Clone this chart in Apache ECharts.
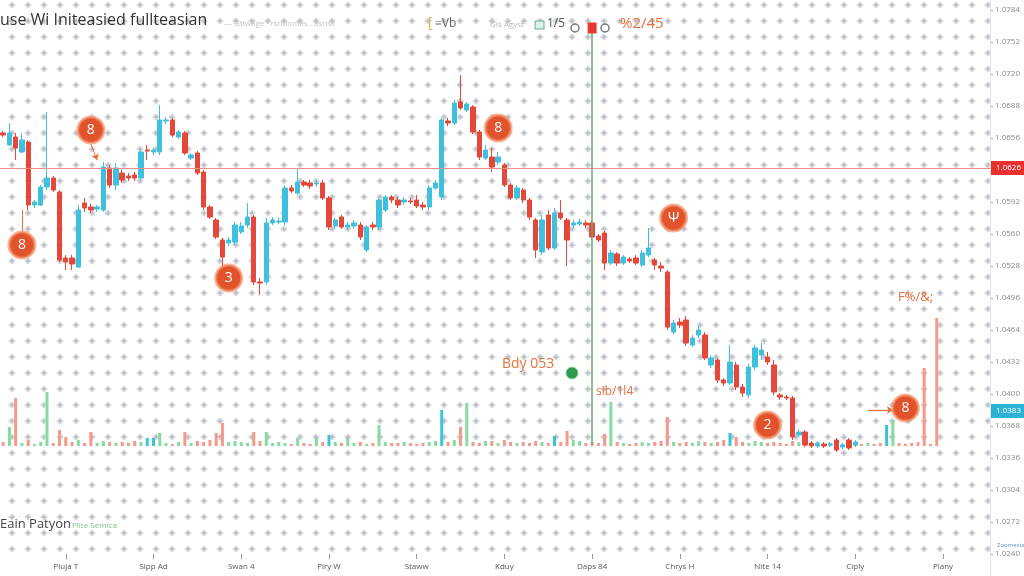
<!DOCTYPE html>
<html><head><meta charset="utf-8">
<script src="https://cdn.jsdelivr.net/npm/echarts@6/dist/echarts.min.js"></script>
<style>html,body{margin:0;padding:0;background:#fff}#c{width:1024px;height:576px}</style>
</head><body><div id="c"></div>
<script>
// ---------- data ----------
const tickLabels = ['Piuja T','Sipp Ad','Swan 4','Piry W','Staww','Kduy','Daps 84','Chrys H','Nite 14','Ciply','Plany'];
const opens = [1.0661,1.0649,1.0657,1.0642,1.0652,1.0589,1.0589,1.0607,1.0616,1.0602,
1.0536,1.0536,1.0527,1.0591,1.0587,1.0585,1.0584,1.0626,1.0609,1.0621,
1.0618,1.0619,1.0616,1.0644,1.0642,1.0642,1.0673,1.0674,1.0657,1.0661,
1.0636,1.0641,1.0622,1.0587,1.0574,1.0554,1.0551,1.0552,1.0562,1.0569,
1.0577,1.0512,1.0512,1.0571,1.0572,1.0572,1.0606,1.0601,1.0612,1.0611,
1.0610,1.0611,1.0596,1.0568,1.0577,1.0567,1.0568,1.0569,1.0544,1.0569,
1.0567,1.0584,1.0597,1.0594,1.0592,1.0593,1.0594,1.0589,1.0587,1.0606,
1.0597,1.0673,1.0671,1.0692,1.0684,1.0687,1.0662,1.0636,1.0637,1.0632,
1.0629,1.0609,1.0596,1.0604,1.0594,1.0574,1.0542,1.0579,1.0546,1.0581,
1.0574,1.0569,1.0570,1.0571,1.0571,1.0558,1.0561,1.0531,1.0540,1.0531,
1.0535,1.0536,1.0529,1.0539,1.0534,1.0528,1.0522,1.0462,1.0472,1.0474,
1.0449,1.0459,1.0459,1.0429,1.0434,1.0414,1.0411,1.0429,1.0407,1.0399,
1.0427,1.0439,1.0437,1.0429,1.0399,1.0397,1.0396,1.0359,1.0362,1.0351,
1.0348,1.0350,1.0349,1.0354,1.0347,1.0354,1.0349];
const closes = [1.0659,1.0661,1.0646,1.0654,1.0589,1.0592,1.0607,1.0616,1.0604,1.0534,
1.0532,1.0530,1.0584,1.0586,1.0584,1.0587,1.0627,1.0609,1.0626,1.0614,
1.0616,1.0616,1.0642,1.0643,1.0644,1.0674,1.0674,1.0659,1.0662,1.0641,
1.0639,1.0621,1.0587,1.0577,1.0557,1.0537,1.0554,1.0569,1.0568,1.0577,
1.0512,1.0511,1.0571,1.0574,1.0573,1.0606,1.0603,1.0612,1.0609,1.0608,
1.0611,1.0596,1.0567,1.0574,1.0567,1.0569,1.0571,1.0557,1.0567,1.0567,
1.0594,1.0597,1.0594,1.0589,1.0594,1.0592,1.0588,1.0587,1.0606,1.0611,
1.0674,1.0671,1.0691,1.0686,1.0690,1.0662,1.0637,1.0644,1.0627,1.0637,
1.0609,1.0596,1.0606,1.0594,1.0577,1.0544,1.0574,1.0546,1.0581,1.0576,
1.0554,1.0571,1.0572,1.0569,1.0557,1.0554,1.0531,1.0541,1.0531,1.0537,
1.0533,1.0531,1.0541,1.0546,1.0529,1.0526,1.0467,1.0471,1.0469,1.0451,
1.0456,1.0464,1.0436,1.0436,1.0414,1.0411,1.0432,1.0407,1.0401,1.0427,
1.0446,1.0444,1.0432,1.0402,1.0397,1.0396,1.0357,1.0362,1.0349,1.0348,
1.0351,1.0348,1.0350,1.0344,1.0349,1.0346,1.0352];
const lows = [1.0657,1.0648,1.0634,1.0641,1.0584,1.0586,1.0588,1.0604,1.0602,1.0532,
1.0524,1.0524,1.0526,1.0582,1.0581,1.0582,1.0582,1.0606,1.0604,1.0611,
1.0613,1.0613,1.0614,1.0634,1.0639,1.0639,1.0670,1.0657,1.0655,1.0639,
1.0634,1.0619,1.0584,1.0575,1.0555,1.0526,1.0548,1.0549,1.0560,1.0566,
1.0509,1.0499,1.0509,1.0569,1.0570,1.0569,1.0601,1.0599,1.0607,1.0605,
1.0607,1.0594,1.0564,1.0565,1.0565,1.0565,1.0565,1.0554,1.0542,1.0564,
1.0564,1.0582,1.0591,1.0586,1.0589,1.0590,1.0586,1.0584,1.0584,1.0604,
1.0594,1.0668,1.0669,1.0684,1.0682,1.0660,1.0634,1.0634,1.0622,1.0629,
1.0607,1.0594,1.0594,1.0591,1.0574,1.0536,1.0539,1.0544,1.0544,1.0574,
1.0528,1.0566,1.0568,1.0566,1.0554,1.0552,1.0524,1.0529,1.0528,1.0529,
1.0531,1.0529,1.0527,1.0537,1.0524,1.0522,1.0464,1.0460,1.0466,1.0448,
1.0447,1.0456,1.0434,1.0426,1.0411,1.0408,1.0409,1.0404,1.0397,1.0396,
1.0424,1.0434,1.0429,1.0399,1.0394,1.0394,1.0354,1.0357,1.0347,1.0346,
1.0346,1.0346,1.0347,1.0342,1.0345,1.0344,1.0347];
const highs = [1.0663,1.0671,1.0661,1.0661,1.0654,1.0594,1.0609,1.0682,1.0618,1.0604,
1.0539,1.0539,1.0589,1.0596,1.0590,1.0589,1.0632,1.0629,1.0631,1.0624,
1.0621,1.0622,1.0644,1.0649,1.0646,1.0689,1.0677,1.0676,1.0664,1.0663,
1.0641,1.0643,1.0624,1.0589,1.0576,1.0556,1.0557,1.0572,1.0572,1.0591,
1.0579,1.0516,1.0576,1.0577,1.0576,1.0609,1.0609,1.0626,1.0614,1.0614,
1.0614,1.0614,1.0598,1.0576,1.0579,1.0572,1.0574,1.0572,1.0569,1.0572,
1.0596,1.0599,1.0599,1.0597,1.0597,1.0596,1.0599,1.0592,1.0609,1.0614,
1.0676,1.0676,1.0694,1.0719,1.0692,1.0689,1.0664,1.0649,1.0646,1.0642,
1.0631,1.0611,1.0609,1.0606,1.0596,1.0576,1.0579,1.0584,1.0586,1.0594,
1.0576,1.0574,1.0575,1.0574,1.0574,1.0560,1.0563,1.0544,1.0542,1.0539,
1.0537,1.0539,1.0544,1.0566,1.0536,1.0532,1.0524,1.0474,1.0476,1.0478,
1.0459,1.0468,1.0462,1.0439,1.0436,1.0416,1.0449,1.0432,1.0410,1.0430,
1.0449,1.0451,1.0442,1.0434,1.0401,1.0399,1.0398,1.0365,1.0364,1.0353,
1.0353,1.0352,1.0352,1.0356,1.0351,1.0356,1.0354];
const volumes = [40,190,480,30,60,20,40,540,30,160,
90,40,60,30,140,30,50,40,30,40,
30,50,40,80,80,130,30,20,40,140,
30,50,40,60,130,230,40,50,40,30,
140,50,140,30,40,30,20,80,30,20,
80,40,110,40,30,80,30,40,20,30,
210,40,30,30,40,30,20,30,40,50,
360,40,60,190,430,40,30,50,50,30,
60,40,30,40,30,50,40,30,100,40,
150,60,50,30,40,30,120,440,40,30,
20,30,40,30,40,50,290,40,30,40,
30,50,40,30,40,60,130,90,40,30,
50,40,30,40,30,20,50,40,30,20,
30,20,30,40,20,30,20,20,30,20,
30,210,260,30,20,30,40,780,20,1280,
0,0,0,0,0,0,0,0];
// trade side for periods after the last candle (b = buy, s = sell)
const tailSides = ['s','b','s','s','b','b','s','s','s','s','s','s','s','s','s','s','s','s','s','s','s'];
const blockTrades = [23,24,52,70,88,116,141];
const lastPrice = 1.0626;
const markPrice = 1.0383;
const crossIndex = 94, crossTop = 1.0769, crossBottom = 1.0349, flagPrice = 1.0766;
const markers = [
  {name:'8', idx:14, price:1.0664},
  {name:'8', idx:3, price:1.0549},
  {name:'3', idx:36, price:1.0516},
  {name:'8', idx:79, price:1.0666},
  {name:'Ψ', idx:107, price:1.0576},
  {name:'2', idx:122, price:1.0369},
  {name:'8', idx:144, price:1.0386}
];
const N = 158;

// ---------- build ----------
const categories = [];
for (let i = 0; i < N; i++) categories.push(i % 14 === 10 ? tickLabels[(i - 10) / 14] : 'P' + i);
const candleData = opens.map((o, i) => [o, closes[i], lows[i], highs[i]]);
const UP = '#3fc0dc', DOWN = '#e5473a';
const volData = volumes.map((v, i) => {
  let buy;
  if (i < opens.length) buy = closes[i] >= opens[i];
  else buy = tailSides[i - opens.length] === 'b';
  let col = buy ? '#86dba0' : '#f39a8c';
  if (blockTrades.includes(i)) col = '#3cc3d6';
  return {value: v, itemStyle: {color: col}};
});

// dotted background tile
const tile = document.createElement('canvas');
tile.width = 16; tile.height = 16;
const g = tile.getContext('2d');
const rg = g.createRadialGradient(12, 5, 0, 12, 5, 3.8);
rg.addColorStop(0, 'rgba(145,150,160,0.62)');
rg.addColorStop(1, 'rgba(145,150,160,0)');
g.fillStyle = rg; g.fillRect(0, 0, 16, 16);
g.fillStyle = 'rgba(170,175,185,0.38)';
g.fillRect(8.5, 4.3, 7, 1.4);
g.fillRect(11.3, 2, 1.4, 6);

const ORANGE = '#e8713a';
const chart = echarts.init(document.getElementById('c'), null, {renderer: 'canvas'});
chart.setOption({
  animation: false,
  backgroundColor: '#fff',
  textStyle: {fontFamily: '"Open Sans", "Noto Sans", sans-serif'},
  grid: [
    {left: 0, right: 34, top: 10, bottom: 22, outerBoundsMode: 'none'},
    {left: 0, right: 34, top: 300, bottom: 130, outerBoundsMode: 'none'}
  ],
  xAxis: [
    {type: 'category', data: categories, gridIndex: 0, boundaryGap: true,
     axisLine: {show: false},
     axisTick: {show: true, alignWithLabel: true, interval: (i) => i % 14 === 10, length: 5, lineStyle: {color: '#999'}},
     axisLabel: {interval: (i) => i % 14 === 10, color: '#555', fontSize: 8, margin: 9},
     splitLine: {show: false}},
    {type: 'category', data: categories, gridIndex: 1, show: false, boundaryGap: true}
  ],
  yAxis: [
    {type: 'value', gridIndex: 0, position: 'right', min: 1.0240, max: 1.0784, interval: 0.0032,
     axisLine: {show: false},
     axisTick: {show: true, length: 3, lineStyle: {color: '#aaa'}},
     axisLabel: {color: '#888', fontSize: 8, margin: 5, formatter: (v) => v.toFixed(4)},
     splitLine: {show: false}},
    {type: 'value', gridIndex: 1, min: 0, max: 1460, show: false, splitLine: {show: false}}
  ],
  graphic: [
    {type: 'rect', z: -10, silent: true, shape: {x: 0, y: 0, width: 990, height: 554},
     style: {fill: {image: tile, repeat: 'repeat'}}},
    {type: 'line', z: 1, silent: true, shape: {x1: 990.5, y1: 0, x2: 990.5, y2: 576}, style: {stroke: '#dde3ea', lineWidth: 1}},
    {type: 'text', left: 0, top: 12, style: {text: 'use Wi Initeasied fullteasian', font: '16px "Open Sans"', fill: '#333'}},
    {type: 'text', left: 224, top: 20, style: {text: '— Gtlwage   rsntlomes . asnsli', font: '8px "Open Sans"', fill: '#c4c4c4'}},
    {type: 'text', left: 428, top: 16, style: {text: '[', font: '14px "Open Sans"', fill: '#e2b24a'}},
    {type: 'text', left: 435, top: 18, style: {text: '≡Vb', font: '12px "Open Sans"', fill: '#666'}},
    {type: 'text', left: 490, top: 21, style: {text: 'Gis Agyst', font: '8px "Open Sans"', fill: '#bbb'}},
    {type: 'rect', shape: {x: 535, y: 21, width: 9, height: 8}, style: {fill: '#dff0e6', stroke: '#6a9', lineWidth: 1}},
    {type: 'text', left: 547, top: 18, style: {text: '1/5', font: '12px "Open Sans"', fill: '#555'}},
    {type: 'circle', shape: {cx: 575, cy: 28, r: 4}, style: {fill: 'none', stroke: '#777', lineWidth: 1.5}},
    {type: 'circle', shape: {cx: 605, cy: 28, r: 4}, style: {fill: 'none', stroke: '#777', lineWidth: 1.5}},
    {type: 'text', left: 620, top: 16, style: {text: '%2/45', font: '15px "Open Sans"', fill: ORANGE}},
    {type: 'text', left: 502, top: 357, style: {text: 'Bdy 053', font: '14px "Open Sans"', fill: ORANGE}},
    {type: 'circle', shape: {cx: 572, cy: 373, r: 6}, style: {fill: '#2f9b4b', stroke: '#8fd19e', lineWidth: 1}},
    {type: 'text', left: 596, top: 386, style: {text: 'sib/1l4', font: '12px "Open Sans"', fill: ORANGE}},
    {type: 'text', left: 898, top: 291, style: {text: 'F%/&;', font: '13px "Open Sans"', fill: ORANGE}},
    {type: 'text', left: 0, top: 518, style: {text: 'Eain Patyon', font: '13px "Open Sans"', fill: '#444'}},
    {type: 'text', left: 72, top: 522, style: {text: 'Plite Semica', font: '8px "Open Sans"', fill: '#7cc487'}},
    {type: 'text', left: 997, top: 542, style: {text: 'Zoomestae', font: '6px "Open Sans"', fill: '#5a8fd0'}}
  ],
  series: [
    {type: 'candlestick', xAxisIndex: 0, yAxisIndex: 0, data: candleData, barWidth: '78%',
     itemStyle: {color: UP, color0: DOWN, borderColor: UP, borderColor0: DOWN, borderWidth: 1},
     markLine: {
       silent: true, symbol: 'none', animation: false, precision: 4,
       label: {show: false},
       data: [
         {yAxis: lastPrice, lineStyle: {color: '#ef8d86', width: 1, type: 'solid'},
          label: {show: true, position: 'end', distance: 1, formatter: (p) => Number(p.value).toFixed(4),
                  color: '#fff', backgroundColor: '#e8312f', padding: [3, 5], fontSize: 8}},
         {yAxis: markPrice, lineStyle: {color: 'rgba(0,0,0,0)', width: 1},
          label: {show: true, position: 'end', distance: 1, formatter: (p) => Number(p.value).toFixed(4),
                  color: '#fff', backgroundColor: '#2bb3d6', padding: [3, 5], fontSize: 8}},
         [{coord: [crossIndex, crossTop], lineStyle: {color: '#6aa86a', width: 1.5, type: 'solid'}},
          {coord: [crossIndex, crossBottom]}],
         [{coord: [14, 1.0650], symbol: 'none', lineStyle: {color: ORANGE, width: 1, type: 'solid'}},
          {coord: [15, 1.0634], symbol: 'arrow', symbolSize: 6}],
         [{coord: [3, 1.0562], symbol: 'none', lineStyle: {color: ORANGE, width: 1, type: 'solid'}},
          {coord: [3, 1.0584], symbol: 'none'}],
         [{coord: [138, 1.0384], symbol: 'none', lineStyle: {color: ORANGE, width: 1.2, type: 'solid'}},
          {coord: [142, 1.0384], symbol: 'arrow', symbolSize: 6}]
       ]
     },
     markPoint: {
       silent: true, animation: false,
       data: markers.map(m => ({
         name: m.name, coord: [m.idx, m.price], symbol: 'circle', symbolSize: 26,
         itemStyle: {color: '#e2532b', borderColor: 'rgba(244,150,110,0.7)', borderWidth: 3},
         label: {show: true, formatter: '{b}', color: '#fff', fontSize: 14, position: 'inside'}
       })).concat([{
         name: 'flag', coord: [crossIndex, flagPrice], symbol: 'rect', symbolSize: [9, 11],
         itemStyle: {color: '#e53935'}, label: {show: false}
       }])
     }
    },
    {type: 'bar', xAxisIndex: 1, yAxisIndex: 1, data: volData, barWidth: 3}
  ]
});
</script>
</body></html>
